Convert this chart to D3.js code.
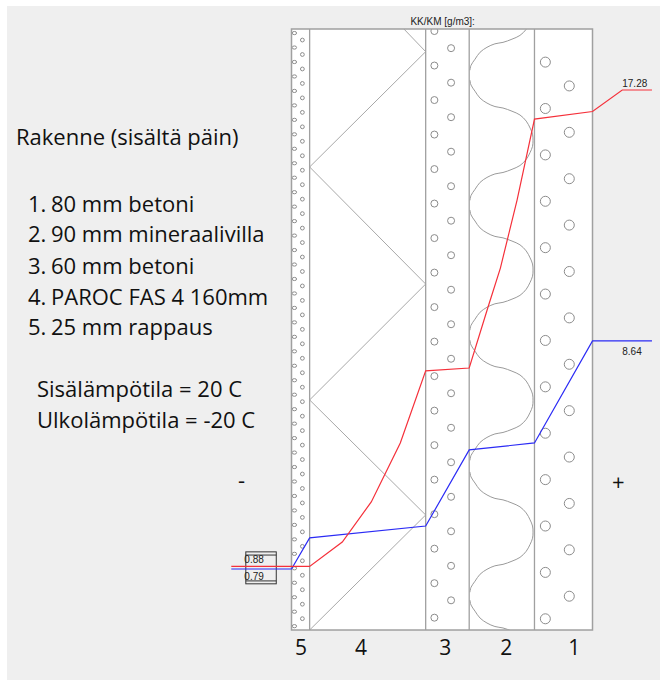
<!DOCTYPE html>
<html>
<head>
<meta charset="utf-8">
<script src="https://cdn.jsdelivr.net/npm/d3@7"></script>
<style>
  html, body { margin: 0; padding: 0; background: #fff; }
  svg { display: block; }
  .note { font-family: "Open Sans", sans-serif; font-size: 22px; fill: #111; }
  .digit { font-family: "Open Sans", sans-serif; font-size: 21px; fill: #111; }
  .small { font-family: "Liberation Sans", Arial, sans-serif; font-size: 10px; fill: #222; }
</style>
</head>
<body>
<script>
const width = 660;
const height = 680;

// wall layers, from the outside in (mm from the outer surface)
const layerEdges = [0, 25, 185, 245, 335, 415];
const layerNames = ['5', '4', '3', '2', '1'];
const layerLabelDepth = [13, 96, 212, 296, 390];

// moisture curves, g/m3 against depth in mm
const curveDepth = [-83, 0, 25, 70, 110, 150, 185, 245, 271, 288, 311, 335, 415, 456, 497];
const redValues = [0.88, 0.88, 0.88, 1.72, 3.10, 5.13, 7.61, 7.71, 9.81, 11.15, 13.49, 16.28, 16.54, 17.28, 17.28];
const blueDepth = [-83, 0, 25, 185, 245, 335, 415, 497];
const blueValues = [0.79, 0.79, 1.86, 2.27, 4.89, 5.13, 8.64, 8.64];

// layer 4 zigzag
const zigzagDepth = [155, 185, 25, 185, 25, 185, 25];
const zigzagValues = [19.38, 18.6, 14.63, 10.60, 6.61, 2.65, -1.31];

// material texture: depth of each dot column, top value, count
const dotColumns = [
  { depth: 4, top: 19.24, step: 0.498, count: 42, rx: 2.2, ry: 1.6 },
  { depth: 15, top: 19.0, step: 0.498, count: 41, rx: 1.9, ry: 1.9 },
  { depth: 197, top: 19.31, step: 1.188, count: 18, rx: 3.5, ry: 3.5 },
  { depth: 220, top: 18.72, step: 1.188, count: 17, rx: 3.5, ry: 3.5 },
  { depth: 350, top: 18.24, step: 1.597, count: 13, rx: 5, ry: 5 },
  { depth: 383, top: 17.42, step: 1.597, count: 12, rx: 5, ry: 5 }
];

// mineral wool wave, left turning points
const waveStarts = [22.1, 17.62, 13.15, 8.67, 4.13, -0.28];
const waveDepth = [246, 247.5, 253, 260, 269.5, 280.5, 291.6, 304, 315, 323.6, 329, 332.3, 333];
const waveDrop = [0, 0.17, 0.38, 0.62, 0.79, 0.91, 0.96, 1.07, 1.2, 1.41, 1.65, 1.86, 2.07];

const textLines = [
  ['Rakenne (sisältä päin)', 16, 145],
  ['1.', 28, 212], ['80 mm betoni', 51, 212],
  ['2.', 28, 242], ['90 mm mineraalivilla', 51, 242],
  ['3.', 28, 274], ['60 mm betoni', 51, 274],
  ['4.', 28, 305], ['PAROC FAS 4 160mm', 51, 305],
  ['5.', 28, 335], ['25 mm rappaus', 51, 335],
  ['Sisälämpötila = 20 C', 37, 397],
  ['Ulkolämpötila = -20 C', 37, 428],
  ['-', 238, 488],
  ['+', 612, 490]
];

const x = d3.scaleLinear().domain([0, 415]).range([291.5, 592.5]);
const y = d3.scaleLinear().domain([-1.31, 19.38]).range([630, 29]);

const svg = d3.select('body').append('svg')
  .attr('width', width)
  .attr('height', height);

svg.append('rect')
  .attr('x', 7)
  .attr('y', 6)
  .attr('width', width - 7)
  .attr('height', height - 6)
  .attr('fill', '#efefef');

svg.append('defs').append('clipPath')
  .attr('id', 'wall')
  .append('rect')
  .attr('x', x(0))
  .attr('y', y(19.38))
  .attr('width', x(415) - x(0))
  .attr('height', y(-1.31) - y(19.38));

svg.append('rect')
  .attr('x', x(0))
  .attr('y', y(19.38))
  .attr('width', x(415) - x(0))
  .attr('height', y(-1.31) - y(19.38))
  .attr('fill', '#fff');

const wall = svg.append('g').attr('clip-path', 'url(#wall)');

// textures
dotColumns.forEach(col => {
  wall.append('g')
    .attr('fill', 'none')
    .attr('stroke', '#8c8c8c')
    .selectAll('ellipse')
    .data(d3.range(col.count))
    .join('ellipse')
      .attr('cx', x(col.depth))
      .attr('cy', i => y(col.top - i * col.step))
      .attr('rx', col.rx)
      .attr('ry', col.ry);
});

wall.append('path')
  .datum(zigzagDepth.map((d, i) => [d, zigzagValues[i]]))
  .attr('fill', 'none')
  .attr('stroke', '#a8a8a8')
  .attr('d', d3.line().x(d => x(d[0])).y(d => y(d[1])));

const waveLine = d3.line()
  .x(d => x(d[0]))
  .y(d => y(d[1]))
  .curve(d3.curveCatmullRom.alpha(0.5));

waveStarts.forEach(start => {
  const down = waveDepth.map((d, i) => [d, start - waveDrop[i]]);
  const up = waveDepth.slice(0, -1).reverse()
    .map((d, i) => [d, start - 2 * waveDrop[waveDrop.length - 1] + waveDrop[waveDrop.length - 2 - i]]);
  wall.append('path')
    .datum(down.concat(up))
    .attr('fill', 'none')
    .attr('stroke', '#9a9a9a')
    .attr('d', waveLine);
});

// layer edges and frame
svg.append('g')
  .attr('stroke', '#a0a0a0')
  .attr('stroke-width', 1.3)
  .selectAll('line')
  .data(layerEdges.slice(1, -1))
  .join('line')
    .attr('x1', d => x(d))
    .attr('x2', d => x(d))
    .attr('y1', y(19.38))
    .attr('y2', y(-1.31));

svg.append('rect')
  .attr('x', x(0))
  .attr('y', y(19.38))
  .attr('width', x(415) - x(0))
  .attr('height', y(-1.31) - y(19.38))
  .attr('fill', 'none')
  .attr('stroke', '#a0a0a0')
  .attr('stroke-width', 1.5);

// value box on the left
const box = svg.append('g').attr('fill', 'none').attr('stroke', '#333');
box.append('rect')
  .attr('x', x(-63))
  .attr('y', y(1.38))
  .attr('width', x(-21) - x(-63))
  .attr('height', y(0.28) - y(1.38));
box.append('line')
  .attr('x1', x(-63)).attr('x2', x(-21))
  .attr('y1', y(1.27)).attr('y2', y(1.27));
box.append('line')
  .attr('x1', x(-63)).attr('x2', x(-21))
  .attr('y1', y(0.38)).attr('y2', y(0.38));

// curves
const curve = d3.line().x(d => x(d[0])).y(d => y(d[1]));

svg.append('path')
  .datum(blueDepth.map((d, i) => [d, blueValues[i]]))
  .attr('fill', 'none')
  .attr('stroke', '#2b2bf5')
  .attr('stroke-width', 1.2)
  .attr('d', curve);

svg.append('path')
  .datum(curveDepth.map((d, i) => [d, redValues[i]]))
  .attr('fill', 'none')
  .attr('stroke', '#f5303a')
  .attr('stroke-width', 1.2)
  .attr('d', curve);

// small chart labels
const smallLabels = [
  ['KK/KM [g/m3]:', x(164), y(19.38) - 4],
  ['0.88', x(-65), y(0.88) - 3],
  ['0.79', x(-65), y(0.79) + 11],
  ['17.28', x(456), y(17.28) - 3],
  ['8.64', x(456), y(8.64) + 14]
];

svg.append('g')
  .selectAll('text')
  .data(smallLabels)
  .join('text')
    .attr('class', 'small')
    .attr('x', d => d[1])
    .attr('y', d => d[2])
    .text(d => d[0]);

// hand written notes
svg.append('g')
  .selectAll('text')
  .data(textLines)
  .join('text')
    .attr('class', 'note')
    .attr('x', d => d[1])
    .attr('y', d => d[2])
    .text(d => d[0]);

svg.append('g')
  .selectAll('text')
  .data(layerNames)
  .join('text')
    .attr('class', 'digit')
    .attr('text-anchor', 'middle')
    .attr('x', (d, i) => x(layerLabelDepth[i]))
    .attr('y', 655)
    .text(d => d);
</script>
</body>
</html>
